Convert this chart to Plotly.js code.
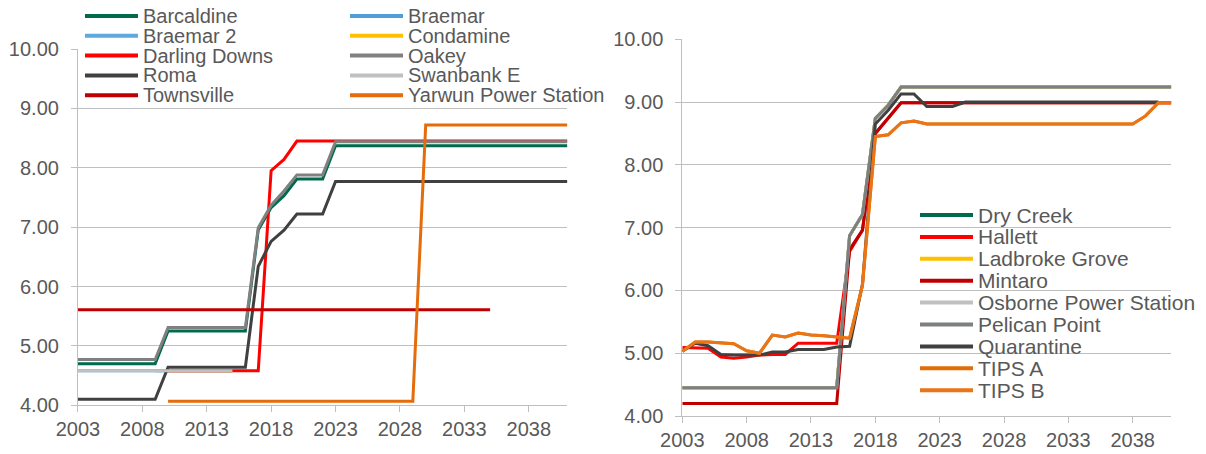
<!DOCTYPE html>
<html>
<head>
<meta charset="utf-8">
<script src="https://cdn.plot.ly/plotly-3.0.1.min.js"></script>
<style>
  html, body { margin: 0; padding: 0; background: #ffffff; }
  #chart { width: 1206px; height: 454px; }
</style>
</head>
<body>
<div id="chart"></div>
<script>
// ---------- DATA ----------
const years = [2003,2004,2005,2006,2007,2008,2009,2010,2011,2012,2013,2014,2015,2016,2017,2018,2019,2020,2021,2022,2023,2024,2025,2026,2027,2028,2029,2030,2031,2032,2033,2034,2035,2036,2037,2038,2039,2040,2041];
const xTickLabels = ["2003","2008","2013","2018","2023","2028","2033","2038"];
const yTickLabels = ["4.00","5.00","6.00","7.00","8.00","9.00","10.00"];

// Left chart (Queensland stations)
const barcaldine = [4.70,4.70,4.70,4.70,4.70,4.70,4.70, 5.25,5.25,5.25,5.25,5.25,5.25,5.25, 6.95,7.33,7.53,7.81,7.81,7.81, 8.37,8.37,8.37,8.37,8.37,8.37,8.37,8.37,8.37,8.37,8.37,8.37,8.37,8.37,8.37,8.37,8.37,8.37,8.37];
const braemar = [4.58,4.58,4.58,4.58,4.58,4.58,4.58,4.58,4.58,4.58,4.58,4.58,4.58, null,null,null,null,null,null,null,null,null,null,null,null,null,null,null,null,null,null,null,null,null,null,null,null,null,null];
const braemar2 = [null,null,null,null,null,null, 4.58,4.58,4.58,4.58,4.58,4.58,4.58, null,null,null,null,null,null,null,null,null,null,null,null,null,null,null,null,null,null,null,null,null,null,null,null,null,null];
const condamine = [null,null,null,null,null,null,null, 4.58,4.58,4.58,4.58,4.58,4.58, null,null,null,null,null,null,null,null,null,null,null,null,null,null,null,null,null,null,null,null,null,null,null,null,null,null];
const darlingDowns = [null,null,null,null,null,null,null, 4.58,4.58,4.58,4.58,4.58,4.58,4.58,4.58, 7.95,8.14, 8.45,8.45,8.45,8.45,8.45,8.45,8.45,8.45,8.45,8.45,8.45,8.45,8.45,8.45,8.45,8.45,8.45,8.45,8.45,8.45,8.45,8.45];
const oakey = [4.77,4.77,4.77,4.77,4.77,4.77,4.77, 5.31,5.31,5.31,5.31,5.31,5.31,5.31, 6.99,7.37,7.61,7.88,7.88,7.88, 8.44,8.44,8.44,8.44,8.44,8.44,8.44,8.44,8.44,8.44,8.44,8.44,8.44,8.44,8.44,8.44,8.44,8.44,8.44];
const roma = [4.10,4.10,4.10,4.10,4.10,4.10,4.10, 4.64,4.64,4.64,4.64,4.64,4.64,4.64, 6.34,6.76,6.95,7.22,7.22,7.22, 7.77,7.77,7.77,7.77,7.77,7.77,7.77,7.77,7.77,7.77,7.77,7.77,7.77,7.77,7.77,7.77,7.77,7.77,7.77];
const swanbankE = [4.58,4.58,4.58,4.58,4.58,4.58,4.58,4.58,4.58,4.58,4.58,4.58,4.58, null,null,null,null,null,null,null,null,null,null,null,null,null,null,null,null,null,null,null,null,null,null,null,null,null,null];
const townsville = [5.61,5.61,5.61,5.61,5.61,5.61,5.61,5.61,5.61,5.61,5.61,5.61,5.61,5.61,5.61,5.61,5.61,5.61,5.61,5.61,5.61,5.61,5.61,5.61,5.61,5.61,5.61,5.61,5.61,5.61,5.61,5.61,5.61, null,null,null,null,null,null];
const yarwun = [null,null,null,null,null,null,null, 4.07,4.07,4.07,4.07,4.07,4.07,4.07,4.07,4.07,4.07,4.07,4.07,4.07,4.07,4.07,4.07,4.07,4.07,4.07,4.07, 8.72,8.72,8.72,8.72,8.72,8.72,8.72,8.72,8.72,8.72,8.72,8.72];

// Right chart (South Australian stations)
const dryCreek = [4.45,4.45,4.45,4.45,4.45,4.45,4.45,4.45,4.45,4.45,4.45,4.45,4.45, 6.87,7.21,8.74,8.95, 9.24,9.24,9.24,9.24,9.24,9.24,9.24,9.24,9.24,9.24,9.24,9.24,9.24,9.24,9.24,9.24,9.24,9.24,9.24,9.24,9.24,9.24];
const hallett = [5.09,5.09,5.08,4.94,4.92,4.94,4.97,4.98,4.98,5.16,5.16,5.16,5.16, 6.62,6.96,8.50,8.74, 8.99,8.99,8.99,8.99,8.99,8.99,8.99,8.99,8.99,8.99,8.99,8.99,8.99,8.99,8.99,8.99,8.99,8.99,8.99,8.99,8.99,8.99];
const ladbrokeGrove = [4.45,4.45,4.45,4.45,4.45,4.45,4.45,4.45,4.45,4.45,4.45,4.45,4.45, 6.87,7.21,8.74,8.95, 9.24,9.24,9.24,9.24,9.24,9.24,9.24,9.24,9.24,9.24,9.24,9.24,9.24,9.24,9.24,9.24,9.24,9.24,9.24,9.24,9.24,9.24];
const mintaro = [4.20,4.20,4.20,4.20,4.20,4.20,4.20,4.20,4.20,4.20,4.20,4.20,4.20, 6.65,6.96,8.50,8.74, 8.99,8.99,8.99,8.99,8.99,8.99,8.99,8.99,8.99,8.99,8.99,8.99,8.99,8.99,8.99,8.99,8.99,8.99,8.99,8.99,8.99,8.99];
const osborne = [4.45,4.45,4.45,4.45,4.45,4.45,4.45,4.45,4.45,4.45,4.45,4.45,4.45, 6.87,7.21,8.74,8.95, 9.24,9.24,9.24,9.24,9.24,9.24,9.24,9.24,9.24,9.24,9.24,9.24,9.24,9.24,9.24,9.24,9.24,9.24,9.24,9.24,9.24,9.24];
const pelicanPoint = [4.45,4.45,4.45,4.45,4.45,4.45,4.45,4.45,4.45,4.45,4.45,4.45,4.45, 6.87,7.21,8.74,8.95, 9.24,9.24,9.24,9.24,9.24,9.24,9.24,9.24,9.24,9.24,9.24,9.24,9.24,9.24,9.24,9.24,9.24,9.24,9.24,9.24,9.24,9.24];
const quarantine = [5.03,5.16,5.12,4.98,4.97,4.97,4.97,5.02,5.02,5.06,5.06,5.06,5.10, 5.11,6.10,8.65,8.87,9.13,9.13,8.93,8.93,8.93, 9.00,9.00,9.00,9.00,9.00,9.00,9.00,9.00,9.00,9.00,9.00,9.00,9.00,9.00,9.00,9.00, null];
const tipsA = [5.03,5.18,5.18,5.17,5.15,5.04,5.00,5.29,5.26,5.32,5.29,5.28,5.26, 5.24,6.08,8.45,8.48,8.67,8.70, 8.65,8.65,8.65,8.65,8.65,8.65,8.65,8.65,8.65,8.65,8.65,8.65,8.65,8.65,8.65,8.65,8.65, 8.78,8.99,8.99];
const tipsB = [5.03,5.18,5.18,5.17,5.15,5.04,5.00,5.29,5.26,5.32,5.29,5.28,5.26, 5.24,6.08,8.45,8.48,8.67,8.70, 8.65,8.65,8.65,8.65,8.65,8.65,8.65,8.65,8.65,8.65,8.65,8.65,8.65,8.65,8.65,8.65,8.65, 8.78,8.99,8.99];

const leftNames = ["Barcaldine","Braemar","Braemar 2","Condamine","Darling Downs","Oakey","Roma","Swanbank E","Townsville","Yarwun Power Station"];
const leftValues = [barcaldine, braemar, braemar2, condamine, darlingDowns, oakey, roma, swanbankE, townsville, yarwun];
const leftColors = ["#006a4e","#4e9ed8","#5fa9de","#ffc000","#ff0000","#808080","#404040","#c0c0c0","#c00000","#e46c0a"];

const rightNames = ["Dry Creek","Hallett","Ladbroke Grove","Mintaro","Osborne Power Station","Pelican Point","Quarantine","TIPS A","TIPS B"];
const rightValues = [dryCreek, hallett, ladbrokeGrove, mintaro, osborne, pelicanPoint, quarantine, tipsA, tipsB];
const rightColors = ["#006a4e","#ff0000","#ffc000","#c00000","#c0c0c0","#7c807e","#404040","#e36c09","#ea7516"];

// ---------- LAYOUT ----------
const W = 1206, H = 454;
const FONT = "Liberation Sans, Arial, sans-serif";
const TXT = "#595959";
const GRID = "#bfbfbf";
const px = v => v / W;
const py = v => 1 - v / H;

const traces = [];
leftNames.forEach((n, i) => traces.push({
  type: "scatter", mode: "lines", name: n, x: years, y: leftValues[i],
  xaxis: "x", yaxis: "y", showlegend: false, connectgaps: false,
  line: { color: leftColors[i], width: 3 }, hoverinfo: "x+y+name"
}));
rightNames.forEach((n, i) => traces.push({
  type: "scatter", mode: "lines", name: n, x: years, y: rightValues[i],
  xaxis: "x2", yaxis: "y2", showlegend: false, connectgaps: false,
  line: { color: rightColors[i], width: 3 }, hoverinfo: "x+y+name"
}));

function xAxis(domain, anchor) {
  return {
    domain: domain, anchor: anchor, range: [2003, 2041], type: "linear",
    tickmode: "array", tickvals: xTickLabels.map(Number), ticktext: xTickLabels,
    ticks: "outside", ticklen: 6, tickwidth: 1, tickcolor: GRID,
    showline: true, linecolor: GRID, linewidth: 1,
    showgrid: false, zeroline: false, ticklabelstandoff: 0,
    tickfont: { family: FONT, size: 20, color: TXT }
  };
}
function yAxis(domain, anchor) {
  return {
    domain: domain, anchor: anchor, range: [4, 10],
    tickmode: "array", tickvals: yTickLabels.map(Number), ticktext: yTickLabels,
    ticks: "outside", ticklen: 6, tickwidth: 1, tickcolor: GRID,
    showline: true, linecolor: GRID, linewidth: 1,
    showgrid: true, gridcolor: GRID, gridwidth: 1, zeroline: false,
    ticklabelstandoff: 8,
    tickfont: { family: FONT, size: 20, color: TXT }
  };
}

// Custom legends (Excel-style tight rows)
const shapes = [];
const annotations = [];
function addLegendItem(name, color, lineX0, lineX1, textX, rowY, size) {
  shapes.push({ type: "line", xref: "paper", yref: "paper",
    x0: px(lineX0), x1: px(lineX1), y0: py(rowY), y1: py(rowY),
    line: { color: color, width: 4 } });
  annotations.push({ xref: "paper", yref: "paper", x: px(textX), y: py(rowY),
    xanchor: "left", yanchor: "middle", showarrow: false, text: name,
    borderpad: 0, font: { family: FONT, size: size, color: TXT } });
}
leftNames.forEach((n, i) => {
  const col = i % 2, row = Math.floor(i / 2);
  const lx = col === 0 ? 85 : 350;
  addLegendItem(n, leftColors[i], lx, lx + 53, lx + 57, 16 + row * 19.8, 20);
});
rightNames.forEach((n, i) => {
  addLegendItem(n, rightColors[i], 920, 973, 977, 215 + i * 21.9, 21);
});

const layout = {
  width: W, height: H,
  margin: { l: 0, r: 0, t: 0, b: 0, pad: 0 },
  paper_bgcolor: "#ffffff", plot_bgcolor: "#ffffff",
  showlegend: false,
  font: { family: FONT, color: TXT },
  xaxis: xAxis([px(77.9), px(567.4)], "y"),
  yaxis: yAxis([py(405.3), py(49)], "x"),
  xaxis2: xAxis([px(682.3), px(1171.3)], "y2"),
  yaxis2: yAxis([py(416), py(39.3)], "x2"),
  shapes: shapes,
  annotations: annotations
};

Plotly.newPlot("chart", traces, layout, { displayModeBar: false, responsive: false, staticPlot: true });
</script>
</body>
</html>
